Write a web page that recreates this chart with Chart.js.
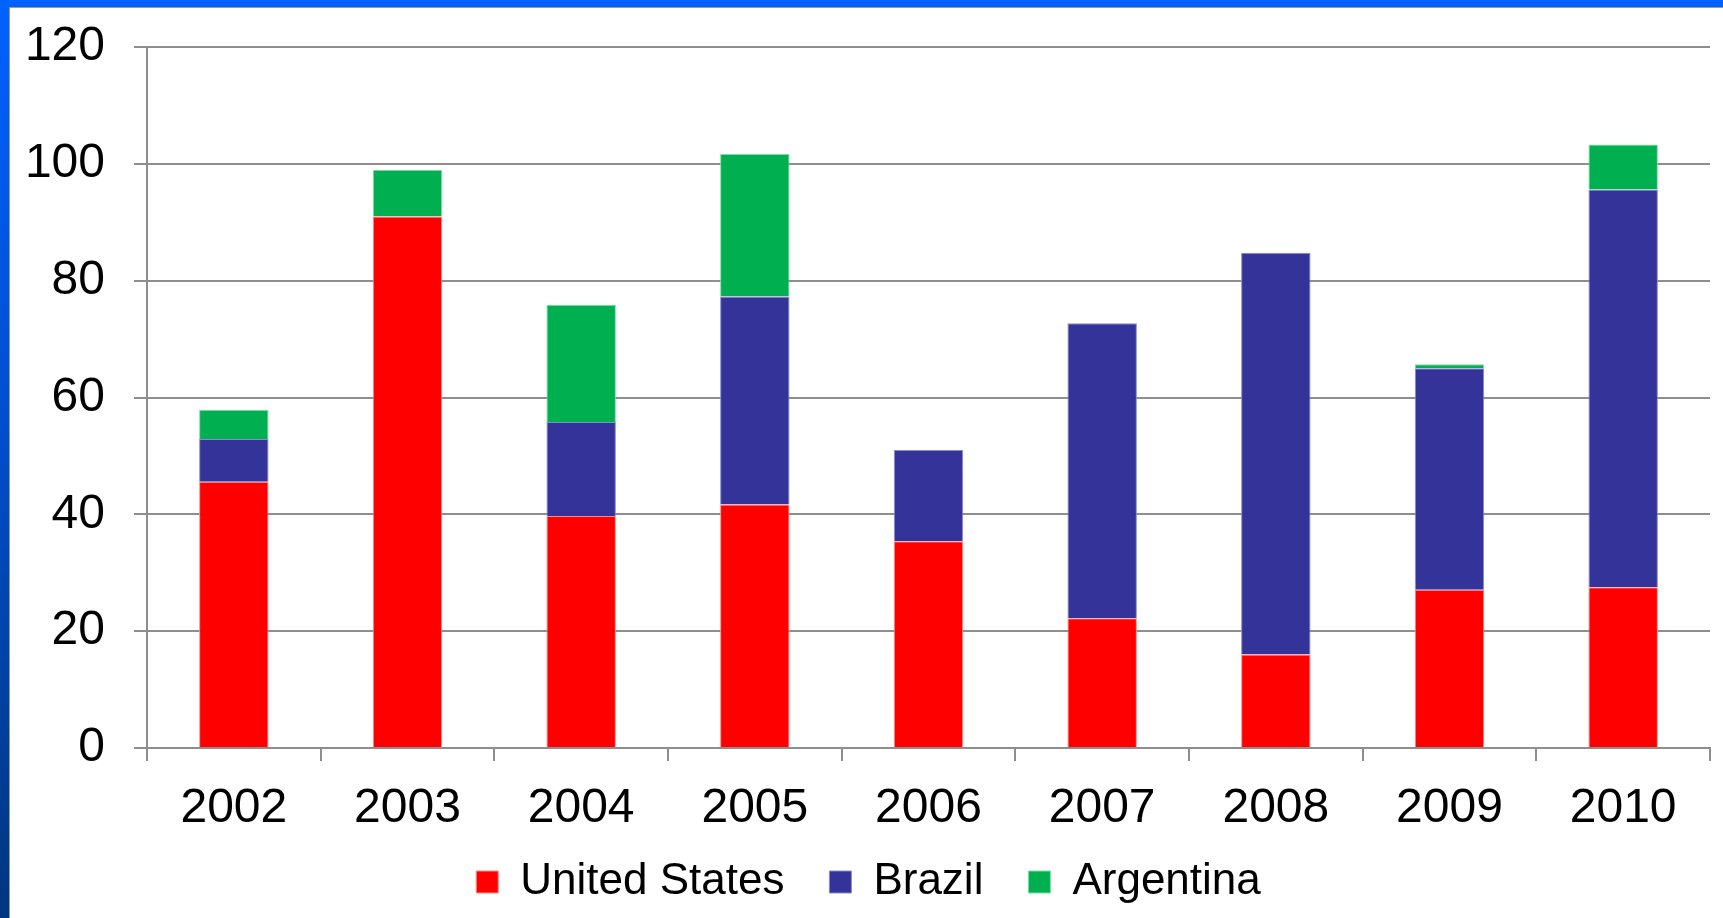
<!DOCTYPE html>
<html>
<head>
<meta charset="utf-8">
<script src="https://cdn.jsdelivr.net/npm/chart.js@4/dist/chart.umd.min.js"></script>
<style>
  body {
    margin: 0;
    width: 1723px;
    height: 918px;
    overflow: hidden;
    background: linear-gradient(to bottom, #0062ff 0%, #004fd0 45%, #00367f 100%);
  }
  #frame {
    position: absolute;
    left: 9px;
    top: 7px;
    width: 1714px;
    height: 911px;
    background: #fff;
    border-left: 1px solid #999;
    border-top: 1px solid #999;
  }
  canvas { display: block; }
</style>
</head>
<body>
<div id="frame"><canvas id="myChart" width="1713" height="910"></canvas></div>
<script>
const years = ['2002', '2003', '2004', '2005', '2006', '2007', '2008', '2009', '2010'];
const unitedStates = [45.6, 91, 39.7, 41.7, 35.4, 22.2, 16, 27.1, 27.5];
const brazil = [7.3, 0, 16.1, 35.6, 15.6, 50.5, 68.8, 37.9, 68.1];
const argentina = [5, 8, 20.1, 24.4, 0, 0, 0, 0.7, 7.7];

const gridGray = '#8e8e8e';
const font = 'Liberation Sans, Arial, sans-serif';

// legend items sit closer under the axis labels than the legend padding would put them
const legendLift = {
    id: 'legendLift',
    afterLayout(chart) {
        chart.legend.top -= 15;
        chart.legend.bottom -= 15;
    }
};

function makeChart() {
    const ctx = document.getElementById('myChart');

    Chart.defaults.font.family = font;
    Chart.defaults.color = '#000';

    new Chart(ctx, {
        type: 'bar',
        data: {
            labels: years,
            datasets: [
                { label: 'United States', data: unitedStates, backgroundColor: '#ff0000', borderColor: '#ff8c8c', borderWidth: 1 },
                { label: 'Brazil', data: brazil, backgroundColor: '#333399', borderColor: '#8a8ad0', borderWidth: 1 },
                { label: 'Argentina', data: argentina, backgroundColor: '#00b050', borderColor: '#80dca8', borderWidth: 1 }
            ]
        },
        plugins: [legendLift],
        options: {
            responsive: false,
            animation: false,
            layout: { padding: { top: 0, left: 17, right: 13, bottom: 0 } },
            datasets: { bar: { barPercentage: 0.4, categoryPercentage: 1 } },
            plugins: {
                tooltip: { enabled: false },
                legend: {
                    position: 'bottom',
                    maxHeight: 88,
                    labels: {
                        boxWidth: 22,
                        boxHeight: 22,
                        padding: 45,
                        color: '#000',
                        font: { size: 44 }
                    }
                }
            },
            scales: {
                x: {
                    stacked: true,
                    offset: true,
                    afterFit: (scale) => { scale.height = 82; },
                    grid: {
                        offset: true,
                        drawOnChartArea: false,
                        drawTicks: true,
                        tickLength: 13,
                        color: gridGray,
                        lineWidth: 2
                    },
                    border: { display: true, color: gridGray, width: 2 },
                    ticks: {
                        padding: 43,
                        color: '#000',
                        font: { size: 48, lineHeight: 0.2 }
                    }
                },
                y: {
                    stacked: true,
                    min: 0,
                    max: 120,
                    afterFit: (scale) => { scale.width = 120; },
                    grid: {
                        color: gridGray,
                        lineWidth: 2,
                        drawTicks: true,
                        tickLength: 13
                    },
                    border: { display: true, color: gridGray, width: 2 },
                    ticks: {
                        stepSize: 20,
                        padding: 29,
                        color: '#000',
                        font: { size: 48, lineHeight: 0.42 }
                    }
                }
            }
        }
    });
}
makeChart();
</script>
</body>
</html>
